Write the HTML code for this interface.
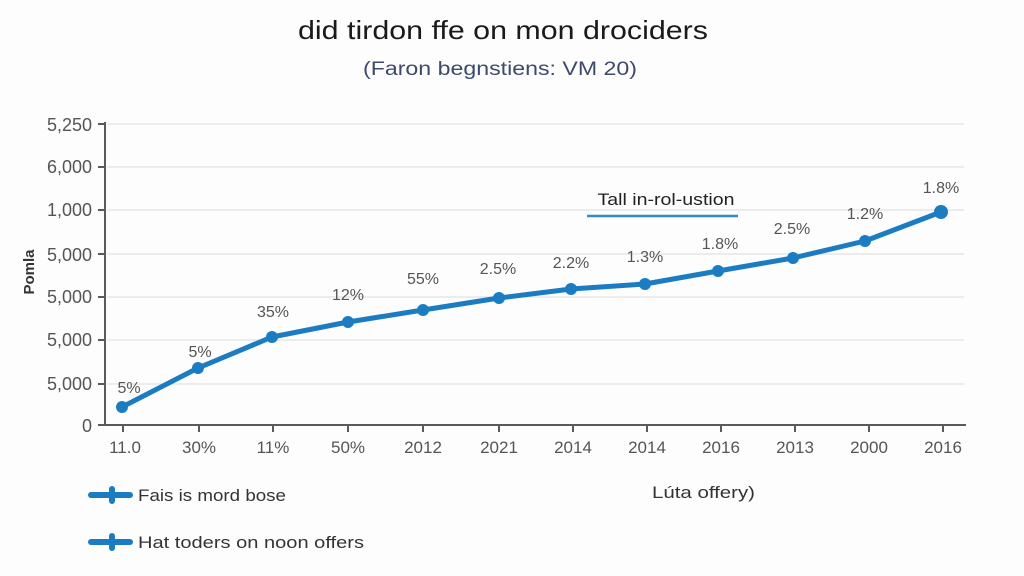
<!DOCTYPE html>
<html>
<head>
<meta charset="utf-8">
<style>
  html,body{margin:0;padding:0;background:#ffffff;}
  svg{display:block;}
  text{font-family:"Liberation Sans","DejaVu Sans",sans-serif;}
</style>
</head>
<body>
<svg width="1024" height="576" viewBox="0 0 1024 576" xmlns="http://www.w3.org/2000/svg">
  <rect x="0" y="0" width="1024" height="576" fill="#fdfdfd"/>

  <!-- Title -->
  <text x="503" y="39" font-size="26" fill="#1a1a1a" text-anchor="middle" textLength="410" lengthAdjust="spacingAndGlyphs">did tirdon ffe on mon drociders</text>
  <text x="500" y="75" font-size="19" fill="#3d4b6b" text-anchor="middle" textLength="274" lengthAdjust="spacingAndGlyphs">(Faron begnstiens: VM 20)</text>

  <!-- gridlines -->
  <g stroke="#e6e6e6" stroke-width="1.5">
    <line x1="107" y1="124" x2="964" y2="124"/>
    <line x1="107" y1="167" x2="964" y2="167"/>
    <line x1="107" y1="210" x2="964" y2="210"/>
    <line x1="107" y1="254" x2="964" y2="254"/>
    <line x1="107" y1="297" x2="964" y2="297"/>
    <line x1="107" y1="340" x2="964" y2="340"/>
    <line x1="107" y1="384" x2="964" y2="384"/>
  </g>

  <!-- axes -->
  <g stroke="#5a5a5a" stroke-width="2">
    <line x1="105" y1="122" x2="105" y2="426"/>
    <line x1="98" y1="425" x2="966" y2="425"/>
    <line x1="98" y1="124" x2="105" y2="124"/>
    <line x1="98" y1="167" x2="105" y2="167"/>
    <line x1="98" y1="210" x2="105" y2="210"/>
    <line x1="98" y1="254" x2="105" y2="254"/>
    <line x1="98" y1="297" x2="105" y2="297"/>
    <line x1="98" y1="340" x2="105" y2="340"/>
    <line x1="98" y1="384" x2="105" y2="384"/>
    <line x1="123" y1="425" x2="123" y2="432"/>
    <line x1="199" y1="425" x2="199" y2="432"/>
    <line x1="273" y1="425" x2="273" y2="432"/>
    <line x1="348" y1="425" x2="348" y2="432"/>
    <line x1="423" y1="425" x2="423" y2="432"/>
    <line x1="499" y1="425" x2="499" y2="432"/>
    <line x1="573" y1="425" x2="573" y2="432"/>
    <line x1="647" y1="425" x2="647" y2="432"/>
    <line x1="721" y1="425" x2="721" y2="432"/>
    <line x1="795" y1="425" x2="795" y2="432"/>
    <line x1="869" y1="425" x2="869" y2="432"/>
    <line x1="943" y1="425" x2="943" y2="432"/>
  </g>

  <!-- y labels -->
  <g font-size="18" fill="#555" text-anchor="end">
    <text x="92" y="131">5,250</text>
    <text x="92" y="173">6,000</text>
    <text x="92" y="216">1,000</text>
    <text x="92" y="261">5,000</text>
    <text x="92" y="303">5,000</text>
    <text x="92" y="346">5,000</text>
    <text x="92" y="390">5,000</text>
    <text x="92" y="432">0</text>
  </g>

  <!-- y axis title -->
  <text x="0" y="0" font-size="15" font-weight="bold" fill="#333" text-anchor="middle" transform="translate(34,272) rotate(-90)">Pomla</text>

  <!-- x labels -->
  <g font-size="17" fill="#555" text-anchor="middle">
    <text x="125" y="453">11.0</text>
    <text x="199" y="453">30%</text>
    <text x="273" y="453">11%</text>
    <text x="348" y="453">50%</text>
    <text x="423" y="453">2012</text>
    <text x="499" y="453">2021</text>
    <text x="573" y="453">2014</text>
    <text x="647" y="453">2014</text>
    <text x="721" y="453">2016</text>
    <text x="795" y="453">2013</text>
    <text x="869" y="453">2000</text>
    <text x="943" y="453">2016</text>
  </g>

  <!-- annotation -->
  <text x="666" y="205" font-size="17" fill="#222" text-anchor="middle" textLength="137" lengthAdjust="spacingAndGlyphs">Tall in-rol-ustion</text>
  <line x1="587" y1="216" x2="738" y2="216" stroke="#2e8bc8" stroke-width="2.5"/>

  <!-- series -->
  <polyline fill="none" stroke="#1c7cc2" stroke-width="5" stroke-linejoin="round" stroke-linecap="round"
    points="122,407 198,368 272,337 348,322 423,310 499,298 571,289 645,284 718,271 793,258 865,241 941,212"/>
  <g fill="#1c7cc2">
    <circle cx="122" cy="407" r="6"/>
    <circle cx="198" cy="368" r="6"/>
    <circle cx="272" cy="337" r="6"/>
    <circle cx="348" cy="322" r="6"/>
    <circle cx="423" cy="310" r="6"/>
    <circle cx="499" cy="298" r="6"/>
    <circle cx="571" cy="289" r="6"/>
    <circle cx="645" cy="284" r="6"/>
    <circle cx="718" cy="271" r="6"/>
    <circle cx="793" cy="258" r="6"/>
    <circle cx="865" cy="241" r="6"/>
    <circle cx="941" cy="212" r="7"/>
  </g>

  <!-- data labels -->
  <g font-size="16" fill="#555" text-anchor="middle">
    <text x="129" y="393">5%</text>
    <text x="200" y="357">5%</text>
    <text x="273" y="317">35%</text>
    <text x="348" y="300">12%</text>
    <text x="423" y="284">55%</text>
    <text x="498" y="274">2.5%</text>
    <text x="571" y="268">2.2%</text>
    <text x="645" y="262">1.3%</text>
    <text x="720" y="249">1.8%</text>
    <text x="792" y="234">2.5%</text>
    <text x="865" y="219">1.2%</text>
    <text x="941" y="193">1.8%</text>
  </g>

  <!-- legend -->
  <g stroke="#1c7cc2" stroke-linecap="round">
    <line x1="91" y1="495" x2="130" y2="495" stroke-width="6"/>
    <line x1="112" y1="489" x2="112" y2="501" stroke-width="6"/>
    <line x1="91" y1="542" x2="130" y2="542" stroke-width="6"/>
    <line x1="112" y1="536" x2="112" y2="548" stroke-width="6"/>
  </g>
  <g font-size="17" fill="#333">
    <text x="138" y="501" textLength="148" lengthAdjust="spacingAndGlyphs">Fais is mord bose</text>
    <text x="138" y="548" textLength="226" lengthAdjust="spacingAndGlyphs">Hat toders on noon offers</text>
    <text x="652" y="498" textLength="103" lengthAdjust="spacingAndGlyphs">Lúta offery)</text>
  </g>
</svg>
</body>
</html>
